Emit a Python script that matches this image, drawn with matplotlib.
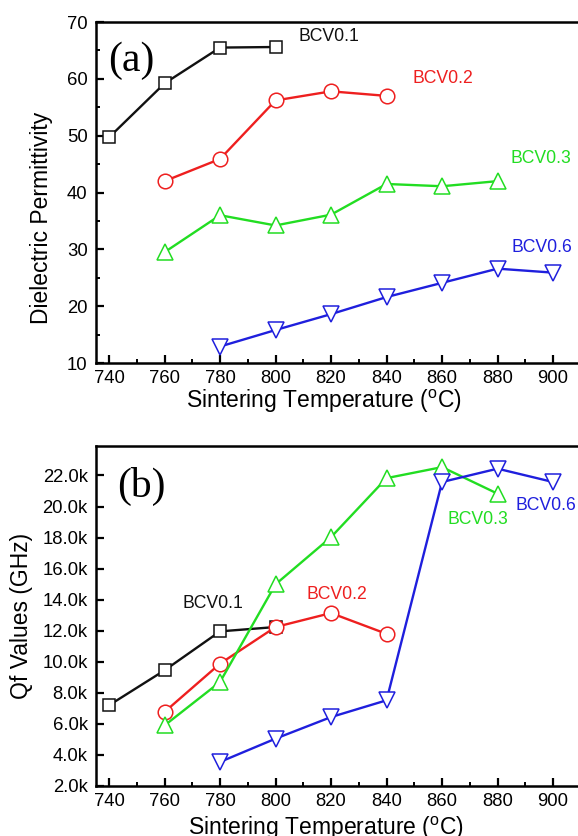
import matplotlib
matplotlib.use("Agg")
import matplotlib.pyplot as plt
from matplotlib.ticker import MultipleLocator, FuncFormatter

plt.rcParams['font.family'] = ['Liberation Sans', 'DejaVu Sans']
plt.rcParams['mathtext.fontset'] = 'custom'
plt.rcParams['mathtext.rm'] = 'Liberation Sans'

# ---- data ----
t01 = [740, 760, 780, 800]
t02 = [760, 780, 800, 820, 840]
t03 = [760, 780, 800, 820, 840, 860, 880]
t06 = [780, 800, 820, 840, 860, 880, 900]

eps01 = [49.7, 59.2, 65.5, 65.6]
eps02 = [42.0, 45.9, 56.2, 57.8, 57.0]
eps03 = [29.5, 36.0, 34.2, 36.1, 41.5, 41.1, 42.0]
eps06 = [12.9, 15.8, 18.6, 21.6, 24.1, 26.6, 25.9]

qf01 = [7200, 9450, 11960, 12240]
qf02 = [6770, 9880, 12240, 13140, 11800]
qf03 = [5900, 8700, 14990, 18030, 21830, 22540, 20830]
qf06 = [3550, 5050, 6440, 7520, 21580, 22440, 21580]

names = ['BCV0.1', 'BCV0.2', 'BCV0.3', 'BCV0.6']
colors = ['#111111', '#ee1f1f', '#22dd22', '#1f1fdd']
markers = ['s', 'o', '^', 'v']
msizes = [8.5, 10.5, 11, 11]

xlabel = r'Sintering Temperature ($^{\rm o}$C)'

fig = plt.figure(figsize=(5.78, 8.36), dpi=100)

W, H = 578.0, 836.0
x0, x1 = 735.3, 912.0
pxu = 2.775
axw = (x1 - x0) * pxu / W

axA = fig.add_axes([96 / W, (H - 363) / H, axw, 341 / H])
axB = fig.add_axes([96 / W, (H - 786) / H, axw, 340 / H])

tsets = [t01, t02, t03, t06]
for ax, ys in ((axA, [eps01, eps02, eps03, eps06]), (axB, [qf01, qf02, qf03, qf06])):
    for t, y, c, m, ms in zip(tsets, ys, colors, markers, msizes):
        ax.plot(t, y, color=c, lw=1.7, marker=m, ms=ms, mfc='white', mec=c, mew=1.1)
    ax.set_xlim(x0, x1)
    ax.xaxis.set_major_locator(MultipleLocator(20))
    ax.xaxis.set_minor_locator(MultipleLocator(10))
    ax.tick_params(which='major', direction='in', length=6, width=1.6, labelsize=13.3)
    ax.tick_params(which='minor', direction='in', length=3, width=1.4)
    ax.tick_params(axis='x', which='major', pad=5)
    ax.tick_params(axis='y', which='major', pad=6)
    ax.tick_params(axis='y', which='minor', left=True)
    for s in ax.spines.values():
        s.set_linewidth(1.8)
    ax.spines['right'].set_visible(False)
    ax.set_xlabel(xlabel, fontsize=16.5)

# panel a
axA.set_ylim(10, 70)
axA.yaxis.set_major_locator(MultipleLocator(10))
axA.yaxis.set_minor_locator(MultipleLocator(5))
axA.set_ylabel('Dielectric Permittivity', fontsize=16.5)
axA.yaxis.set_label_coords(-0.088, 0.425)
axA.xaxis.set_label_coords(0.465, -0.073)
axA.text(748, 63.1, '(a)', fontsize=30, family='Liberation Serif', ha='center', va='center')
labA = [(808.1, 67.5), (849.5, 60.1), (884.8, 46.0), (885.2, 30.3)]
for (x, y), n, c in zip(labA, names, colors):
    axA.text(x, y, n, color=c, fontsize=12.7, ha='left', va='center')

# panel b
axB.set_ylim(2000, 23900)
axB.yaxis.set_major_locator(MultipleLocator(2000))
axB.yaxis.set_minor_locator(MultipleLocator(1000))
axB.tick_params(axis='y', which='minor', length=0)
axB.yaxis.set_major_formatter(FuncFormatter(lambda v, p: f"{v / 1000:.1f}k"))
axB.set_ylabel('Qf Values (GHz)', fontsize=16.5)
axB.yaxis.set_label_coords(-0.129, 0.5)
axB.xaxis.set_label_coords(0.47, -0.085)
axB.text(751.5, 21300, '(b)', fontsize=30, family='Liberation Serif', ha='center', va='center')
labB = [(766.3, 13765), (811.3, 14344), (861.8, 19173), (886.3, 20075)]
for (x, y), n, c in zip(labB, names, colors):
    axB.text(x, y, n, color=c, fontsize=12.7, ha='left', va='center')

fig.savefig('out.png', dpi=100)
